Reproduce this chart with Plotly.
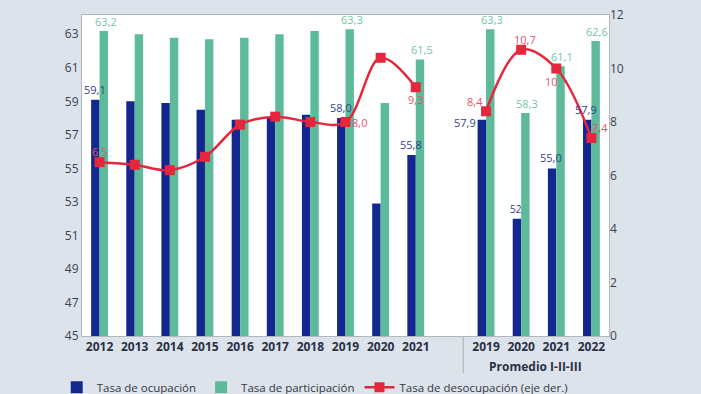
import plotly.graph_objects as go

# ---- data ----
categories = ["2012", "2013", "2014", "2015", "2016", "2017", "2018", "2019", "2020", "2021",
              "", "2019", "2020", "2021", "2022"]
ocupacion = [59.1, 59.0, 58.9, 58.5, 57.9, 58.0, 58.2, 58.0, 52.9, 55.8,
             None, 57.9, 52.0, 55.0, 57.9]
participacion = [63.2, 63.0, 62.8, 62.7, 62.8, 63.0, 63.2, 63.3, 58.9, 61.5,
                 None, 63.3, 58.3, 61.1, 62.6]
desocupacion = [6.5, 6.4, 6.2, 6.7, 7.9, 8.2, 8.0, 8.0, 10.4, 9.3,
                None, 8.4, 10.7, 10.0, 7.4]
group_label = "Promedio I-II-III"

# which labels are shown (index -> text)
ocup_labels = {0: "59,1", 7: "58,0", 9: "55,8", 11: "57,9", 12: "52", 13: "55,0", 14: "57,9"}
part_labels = {0: "63,2", 7: "63,3", 9: "61,5", 11: "63,3", 12: "58,3", 13: "61,1", 14: "62,6"}
deso_labels = {0: "6,5", 7: "8,0", 9: "9,3", 11: "8,4", 12: "10,7", 13: "10", 14: "7,4"}

C_BLUE = "#13288e"
C_GREEN = "#5dbb9b"
C_RED = "#e6263d"
L_BLUE = "#33408f"
L_GREEN = "#72c6a8"
L_RED = "#e9506a"
BG = "#dde3ea"
FONT = "Open Sans"

x = list(range(len(categories)))

fig = go.Figure()
fig.add_trace(go.Bar(x=x, y=ocupacion, name="Tasa de ocupación",
                     marker=dict(color=C_BLUE, line=dict(width=0))))
fig.add_trace(go.Bar(x=x, y=participacion, name="Tasa de participación",
                     marker=dict(color=C_GREEN, line=dict(width=0))))
fig.add_trace(go.Scatter(x=x, y=desocupacion, name="Tasa de desocupación (eje der.)",
                         yaxis="y2", mode="lines+markers", connectgaps=False,
                         line=dict(color=C_RED, width=2.5, shape="spline", smoothing=1),
                         marker=dict(symbol="square", size=10, color=C_RED)))

ann = []
# ocupacion labels
for i, t in ocup_labels.items():
    if i == 11:
        ann.append(dict(x=i, y=ocupacion[i], xref="x", yref="y", text=t, showarrow=False,
                        xanchor="right", yanchor="middle", xshift=-8, yshift=-3,
                        font=dict(color=L_BLUE, size=11, family=FONT)))
    else:
        ann.append(dict(x=i, y=ocupacion[i], xref="x", yref="y", text=t, showarrow=False,
                        xanchor="center", yanchor="bottom", xshift=-5, yshift=1,
                        font=dict(color=L_BLUE, size=11 if t != "52" else 10, family=FONT)))
for i, t in part_labels.items():
    ann.append(dict(x=i, y=participacion[i], xref="x", yref="y", text=t, showarrow=False,
                    xanchor="center", yanchor="bottom", xshift=6, yshift=0,
                    font=dict(color=L_GREEN, size=11, family=FONT)))
deso_pos = {0: (0, 11), 7: (14, 0), 9: (0, -12), 11: (-11, 10), 12: (4, 10), 13: (-5, -13), 14: (9, 11)}
for i, t in deso_labels.items():
    dx, dy = deso_pos[i]
    ann.append(dict(x=i, y=desocupacion[i], xref="x", yref="y2", text=t, showarrow=False,
                    xanchor="center", yanchor="middle", xshift=dx, yshift=dy,
                    font=dict(color=L_RED, size=11, family=FONT)))
ann.append(dict(x=12.4, y=-0.095, xref="x", yref="paper", text="<b>%s</b>" % group_label,
                showarrow=False, xanchor="center", yanchor="middle",
                font=dict(color="#2a2f45", size=12, family=FONT)))

fig.update_layout(
    width=701, height=394,
    margin=dict(l=82, r=92, t=15, b=58, autoexpand=False),
    paper_bgcolor=BG, plot_bgcolor="white",
    barmode="group", bargap=0.52, bargroupgap=0,
    font=dict(family=FONT, color="#3c4150", size=12),
    showlegend=True,
    legend=dict(orientation="h", x=-0.048, y=-0.16, xanchor="left", yanchor="middle",
                font=dict(size=11.5, color="#333844", family=FONT),
                bgcolor="rgba(0,0,0,0)", itemwidth=30, tracegroupgap=0),
    xaxis=dict(tickmode="array", tickvals=[i for i, c in enumerate(categories) if c],
               ticktext=["<b>%s</b>" % c for c in categories if c],
               range=[-0.5, len(categories) - 0.5], showgrid=False,
               showline=True, mirror=True, linecolor="#b3b7bd", linewidth=1,
               ticks="", tickfont=dict(size=12, color="#2a2f45")),
    yaxis=dict(range=[45, 64.15], tickvals=[45, 47, 49, 51, 53, 55, 57, 59, 61, 63],
               showgrid=False, showline=True, mirror=True, linecolor="#b3b7bd",
               linewidth=1, ticks="", zeroline=False, tickfont=dict(size=12)),
    yaxis2=dict(range=[0, 12], dtick=2, overlaying="y", side="right", showgrid=False,
                showline=False, ticks="", zeroline=False, tickfont=dict(size=12)),
    annotations=ann,
    shapes=[dict(type="line", xref="x", yref="paper", x0=10.35, x1=10.35, y0=0, y1=-0.115,
                 line=dict(color="#a9adb3", width=1))],
)

fig.write_html(
    "out.html",
    config={"displayModeBar": False},
    post_script="document.body.style.margin='0';document.body.style.background='%s';"
                "document.body.style.overflow='hidden';" % BG,
)
